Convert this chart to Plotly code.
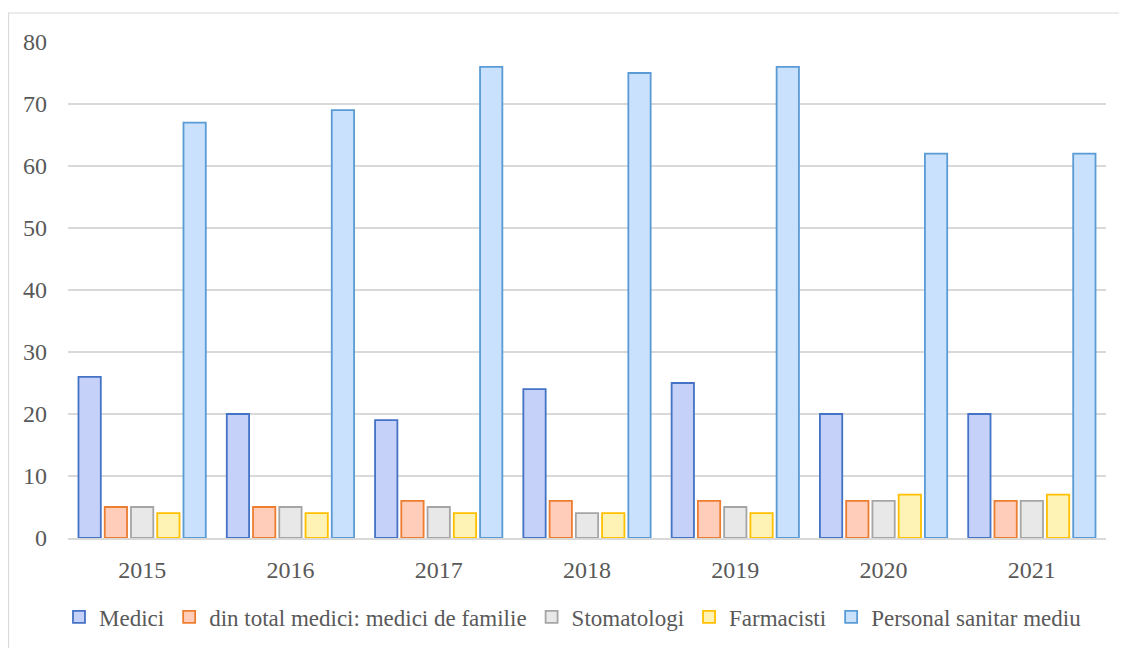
import plotly.graph_objects as go

years = ["2015", "2016", "2017", "2018", "2019", "2020", "2021"]
medici = [26, 20, 19, 24, 25, 20, 20]
medici_familie = [5, 5, 6, 6, 6, 6, 6]
stomatologi = [5, 5, 5, 4, 5, 6, 6]
farmacisti = [4, 4, 4, 4, 4, 7, 7]
personal_sanitar = [67, 69, 76, 75, 76, 62, 62]

series = [
    ("Medici", medici, "#C6D1FA", "#4472C4"),
    ("din total medici: medici de familie", medici_familie, "#FFCDB9", "#ED7D31"),
    ("Stomatologi", stomatologi, "#E8E8E8", "#A5A5A5"),
    ("Farmacisti", farmacisti, "#FFF2B5", "#FFC000"),
    ("Personal sanitar mediu", personal_sanitar, "#C9E1FC", "#5B9BD5"),
]

FAM = "'Times New Roman', 'Liberation Serif', Tinos, 'DejaVu Serif', serif"
TXT = "#595959"
FS = 24
LFS = 23

fig = go.Figure()
for name, vals, fill, line in series:
    fig.add_trace(go.Bar(
        x=years, y=vals, name=name,
        marker=dict(color=fill, line=dict(color=line, width=1.8)),
    ))

W, H = 1127, 648
l, t = 60, 34
pw, ph = 1038, 496
r, b = W - l - pw, H - t - ph

def px(xp):
    return (xp - l) / pw

def py(yp):
    return (t + ph - yp) / ph

fig.add_shape(type="rect", xref="paper", yref="paper",
              x0=px(0.5), x1=px(1140), y0=py(660), y1=py(5),
              line=dict(color="#D9D9D9", width=1.2), fillcolor="rgba(0,0,0,0)", layer="below")

fig.update_layout(
    width=W, height=H,
    margin=dict(l=l, r=r, t=t, b=b, autoexpand=False),
    paper_bgcolor="white", plot_bgcolor="white",
    barmode="group", bargap=0.115, bargroupgap=0.15,
    font=dict(family=FAM, size=FS, color=TXT),
    showlegend=True,
    legend=dict(orientation="h", x=px(565), xanchor="center", y=py(609), yanchor="middle",
                font=dict(family=FAM, size=LFS, color=TXT), bgcolor="rgba(0,0,0,0)",
                itemwidth=30, tracegroupgap=0, traceorder="normal"),
    xaxis=dict(showgrid=False, showline=True, linecolor="#D9D9D9", linewidth=1.5,
               ticks="", ticklabelstandoff=9,
               tickfont=dict(family=FAM, size=FS, color=TXT)),
    yaxis=dict(range=[0, 80], dtick=10, showgrid=True, gridcolor="#D9D9D9", gridwidth=1.5,
               zeroline=False, showline=False, ticks="", ticklabelstandoff=20,
               tickfont=dict(family=FAM, size=FS, color=TXT)),
)

fig.write_html("out.html")
